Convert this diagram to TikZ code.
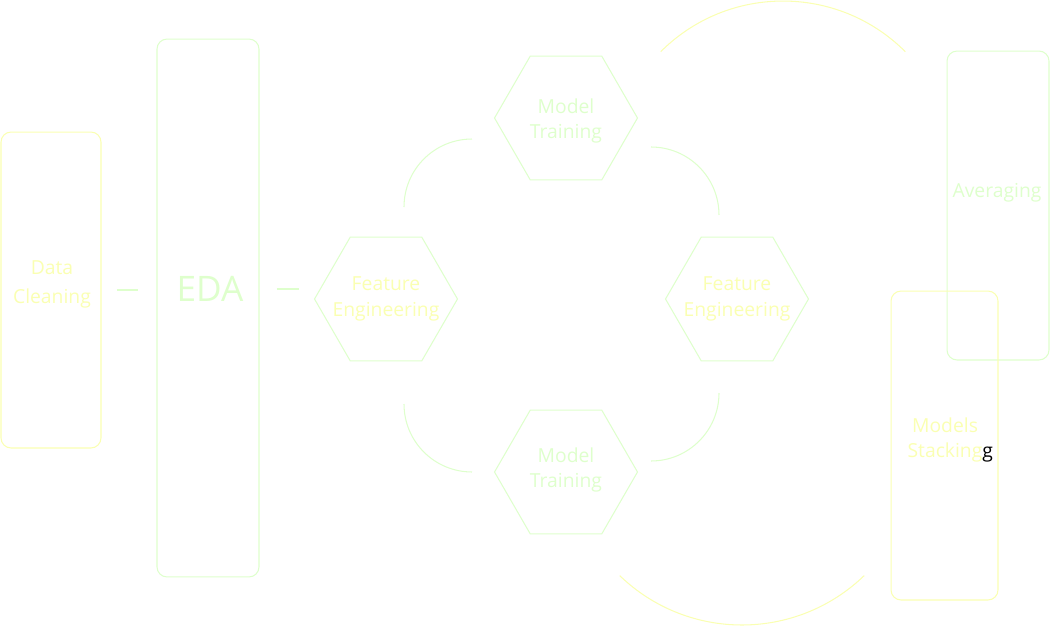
\documentclass[tikz,border=0pt]{standalone}
\usepackage{fontspec}
\setmainfont{Open Sans}
\usetikzlibrary{shapes.geometric,calc}
\definecolor{paleyellow}{RGB}{250,255,178}
\definecolor{palegreen}{RGB}{222,255,204}
\tikzset{
  ybox/.style={draw=paleyellow, rounded corners=0.2cm, inner sep=0pt},
  gbox/.style={draw=palegreen, rounded corners=0.2cm, inner sep=0pt},
  hexa/.style={draw=palegreen, regular polygon, regular polygon sides=6,
    minimum size=2.86cm, inner sep=0pt},
  lbl/.style={align=center, inner sep=0pt, font=\fontsize{11}{14.5}\selectfont},
}
\begin{document}
\begin{tikzpicture}[x=0.02cm,y=0.02cm,line width=0.6pt]
        \useasboundingbox (0,0) rectangle (1050,627);

        % boxes
        \node[ybox, minimum width=2cm, minimum height=6.32cm] (dc) at (51,337) {};
        \node[gbox, minimum width=2.04cm, minimum height=10.76cm] (eda) at (208,319) {};
        \node[gbox, minimum width=2.04cm, minimum height=6.18cm] (avg) at (998,421.5) {};
        \node[ybox, minimum width=2.14cm, minimum height=6.18cm] (stk) at (944.5,181.5) {};

        \node[lbl, text=paleyellow, font=\fontsize{11}{16.5}\selectfont] (dclbl) at (52,343) {Data\\Cleaning};
        \node[lbl, text=palegreen, font=\fontsize{20}{24}\selectfont] (edalbl) at (210,338) {EDA};
        \node[lbl, text=palegreen] (avglbl) at (997,434) {Averaging};
        \node[lbl, text=paleyellow] (stklbl) at (945,187) {Models\\Stacking\rlap{\color{black}g}};

        % hexagons
        \node[hexa] (fe1) at (386,328) {};
        \node[hexa] (mt1) at (566,509) {};
        \node[hexa] (fe2) at (737,328) {};
        \node[hexa] (mt2) at (566,155) {};

        \node[lbl, text=paleyellow] (fe1lbl) at (fe1) {Feature\\Engineering};
        \node[lbl, text=palegreen] (mt1lbl) at (566,506) {Model\\Training};
        \node[lbl, text=paleyellow] (fe2lbl) at (fe2) {Feature\\Engineering};
        \node[lbl, text=palegreen] (mt2lbl) at (566,157) {Model\\Training};

        \draw[palegreen] ($(dc.east)+(15,0)$) -- ($(eda.west |- dc.east)+(-18,0)$);
        \draw[palegreen] ($(eda.east |- edalbl)+(17,0)$) -- ($(fe1.west |- edalbl)+(-15,0)$);

        % cycle arcs
        \draw[palegreen] (404,420) arc[start angle=180, end angle=90, radius=1.36cm];
        \draw[palegreen] (651,480) arc[start angle=90, end angle=0, radius=1.36cm];
        \draw[palegreen] (719,234) arc[start angle=0, end angle=-90, radius=1.36cm];
        \draw[palegreen] (404,223) arc[start angle=180, end angle=270, radius=1.36cm];

        % outer arcs
        \draw[paleyellow] (660.7,575.3) arc[start angle=135, end angle=45, radius=3.46cm];
        \draw[paleyellow] (619.7,51.4) arc[start angle=226, end angle=314, radius=3.52cm];
      \end{tikzpicture}
\end{document}
